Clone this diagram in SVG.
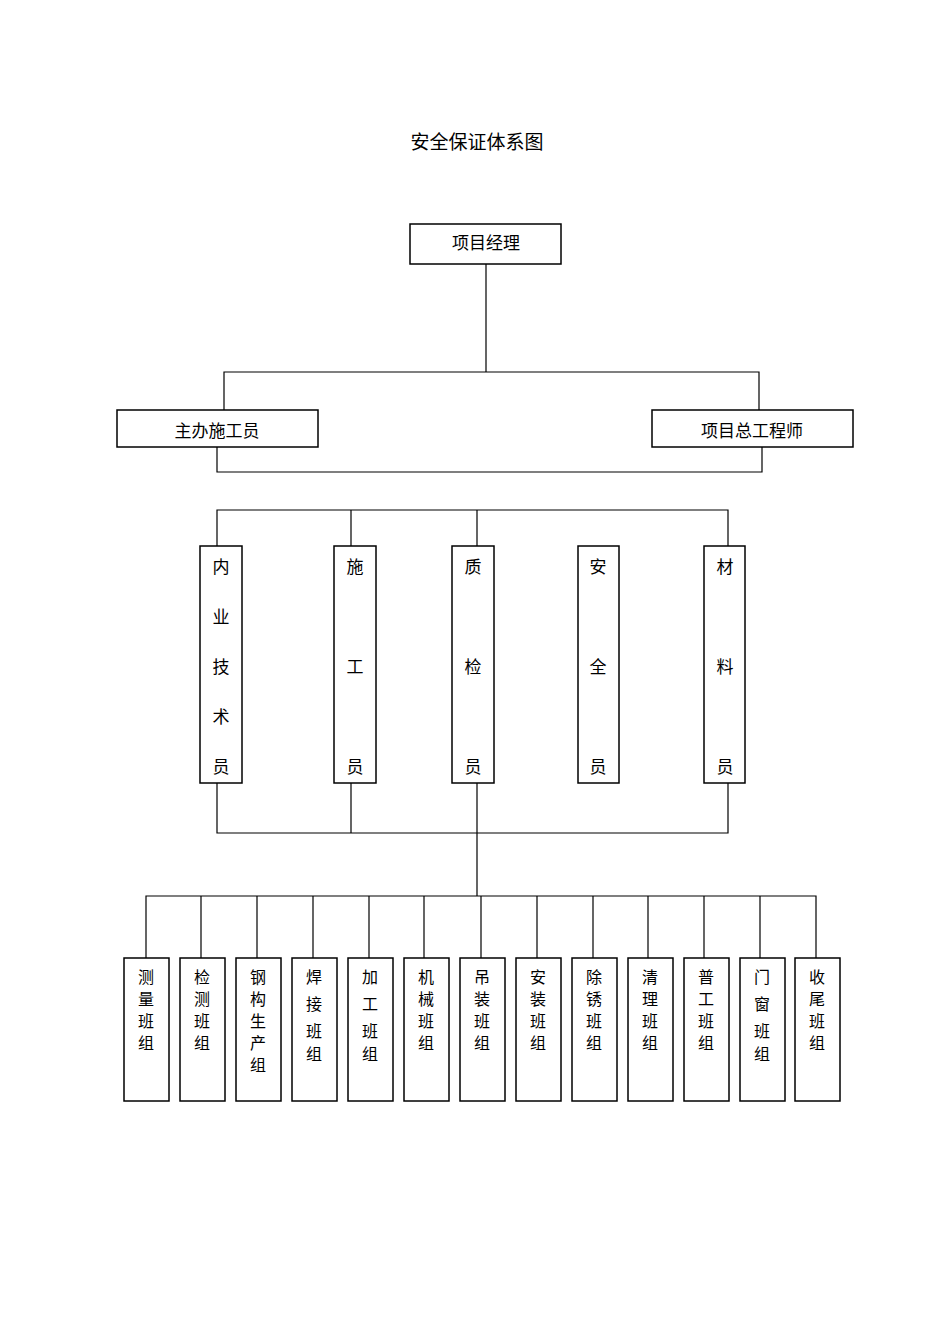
<svg xmlns="http://www.w3.org/2000/svg" width="950" height="1344" viewBox="0 0 950 1344">
<style>
.b{fill:#fff;stroke:#000;stroke-width:1.5}
.l{fill:none;stroke:#000;stroke-width:1.2}
text{font-family:"Noto Sans CJK SC",sans-serif;font-size:17px;fill:#000;text-anchor:middle;dominant-baseline:central}
.s{font-size:16px}
</style>
<rect width="950" height="1344" fill="#fff"/>
<text x="477" y="140" style="font-size:19px">安全保证体系图</text>
<g id="connectors">
<path class="l" d="M486 264V372M224 410V372H759V410M217 447V472H762V447"/>
<path class="l" d="M217 546V510H728V546M351 510V546M477 510V546"/>
<path class="l" d="M217 783V833H728V783M351 783V833M477 783V896"/>
<path class="l" d="M146 958V896H816V958M201 896V958M257 896V958M313 896V958M369 896V958M424 896V958M481 896V958M537 896V958M593 896V958M648 896V958M704 896V958M760 896V958"/>
</g>
<g id="n0"><rect class="b" x="410" y="224" width="151" height="40"/><text x="486" y="241">项目经理</text></g>
<g id="n1"><rect class="b" x="117" y="410" width="201" height="37"/><text x="217" y="429">主办施工员</text></g>
<g id="n2"><rect class="b" x="652" y="410" width="201" height="37"/><text x="752" y="429">项目总工程师</text></g>
<g id="m1"><rect class="b" x="200" y="546" width="42" height="237"/><text x="221" y="565">内</text><text x="221" y="615">业</text><text x="221" y="665">技</text><text x="221" y="715">术</text><text x="221" y="765">员</text></g>
<g id="m2"><rect class="b" x="334" y="546" width="42" height="237"/><text x="355" y="565">施</text><text x="355" y="665">工</text><text x="355" y="765">员</text></g>
<g id="m3"><rect class="b" x="452" y="546" width="42" height="237"/><text x="473" y="565">质</text><text x="473" y="665">检</text><text x="473" y="765">员</text></g>
<g id="m4"><rect class="b" x="578" y="546" width="41" height="237"/><text x="598" y="565">安</text><text x="598" y="665">全</text><text x="598" y="765">员</text></g>
<g id="m5"><rect class="b" x="704" y="546" width="41" height="237"/><text x="725" y="565">材</text><text x="725" y="665">料</text><text x="725" y="765">员</text></g>
<g id="t1"><rect class="b" x="124" y="958" width="45" height="143"/><text class="s" x="146" y="976">测</text><text class="s" x="146" y="998">量</text><text class="s" x="146" y="1020">班</text><text class="s" x="146" y="1042">组</text></g>
<g id="t2"><rect class="b" x="180" y="958" width="45" height="143"/><text class="s" x="202" y="976">检</text><text class="s" x="202" y="998">测</text><text class="s" x="202" y="1020">班</text><text class="s" x="202" y="1042">组</text></g>
<g id="t3"><rect class="b" x="236" y="958" width="45" height="143"/><text class="s" x="258" y="976">钢</text><text class="s" x="258" y="998">构</text><text class="s" x="258" y="1020">生</text><text class="s" x="258" y="1042">产</text><text class="s" x="258" y="1064">组</text></g>
<g id="t4"><rect class="b" x="292" y="958" width="45" height="143"/><text class="s" x="314" y="976">焊</text><text class="s" x="314" y="1003">接</text><text class="s" x="314" y="1030">班</text><text class="s" x="314" y="1053">组</text></g>
<g id="t5"><rect class="b" x="348" y="958" width="45" height="143"/><text class="s" x="370" y="976">加</text><text class="s" x="370" y="1003">工</text><text class="s" x="370" y="1030">班</text><text class="s" x="370" y="1053">组</text></g>
<g id="t6"><rect class="b" x="404" y="958" width="45" height="143"/><text class="s" x="426" y="976">机</text><text class="s" x="426" y="998">械</text><text class="s" x="426" y="1020">班</text><text class="s" x="426" y="1042">组</text></g>
<g id="t7"><rect class="b" x="460" y="958" width="45" height="143"/><text class="s" x="482" y="976">吊</text><text class="s" x="482" y="998">装</text><text class="s" x="482" y="1020">班</text><text class="s" x="482" y="1042">组</text></g>
<g id="t8"><rect class="b" x="516" y="958" width="45" height="143"/><text class="s" x="538" y="976">安</text><text class="s" x="538" y="998">装</text><text class="s" x="538" y="1020">班</text><text class="s" x="538" y="1042">组</text></g>
<g id="t9"><rect class="b" x="572" y="958" width="45" height="143"/><text class="s" x="594" y="976">除</text><text class="s" x="594" y="998">锈</text><text class="s" x="594" y="1020">班</text><text class="s" x="594" y="1042">组</text></g>
<g id="t10"><rect class="b" x="628" y="958" width="45" height="143"/><text class="s" x="650" y="976">清</text><text class="s" x="650" y="998">理</text><text class="s" x="650" y="1020">班</text><text class="s" x="650" y="1042">组</text></g>
<g id="t11"><rect class="b" x="684" y="958" width="45" height="143"/><text class="s" x="706" y="976">普</text><text class="s" x="706" y="998">工</text><text class="s" x="706" y="1020">班</text><text class="s" x="706" y="1042">组</text></g>
<g id="t12"><rect class="b" x="740" y="958" width="45" height="143"/><text class="s" x="762" y="976">门</text><text class="s" x="762" y="1003">窗</text><text class="s" x="762" y="1030">班</text><text class="s" x="762" y="1053">组</text></g>
<g id="t13"><rect class="b" x="795" y="958" width="45" height="143"/><text class="s" x="817" y="976">收</text><text class="s" x="817" y="998">尾</text><text class="s" x="817" y="1020">班</text><text class="s" x="817" y="1042">组</text></g>
</svg>
